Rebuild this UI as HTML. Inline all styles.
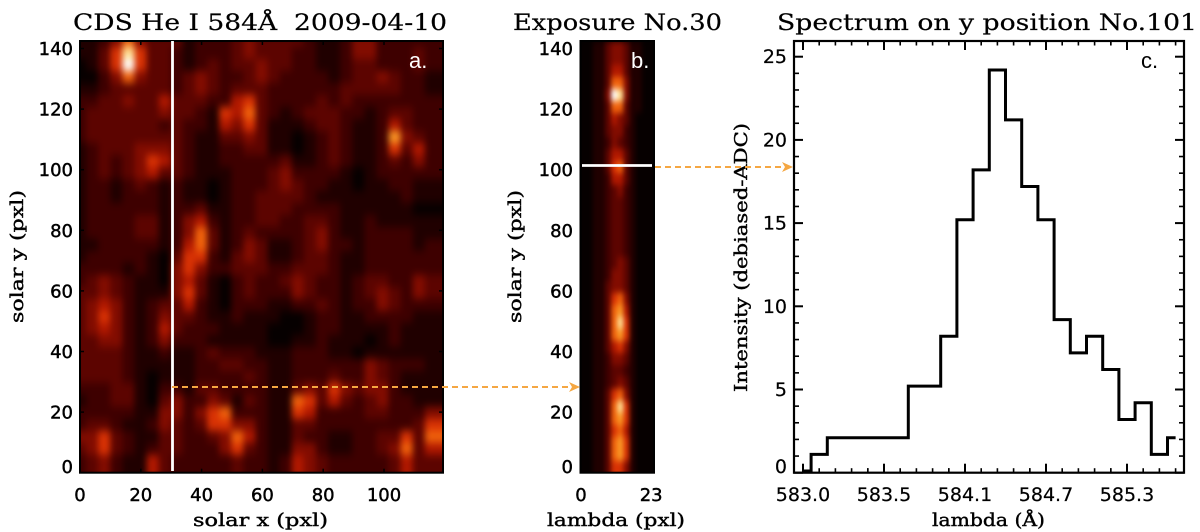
<!DOCTYPE html>
<html><head><meta charset="utf-8"><title>CDS He I 584 spectrum panels</title>
<style>
html,body{margin:0;padding:0;background:#fff;width:1200px;height:532px;overflow:hidden}
svg{display:block}
.title{font-family:"DejaVu Serif","Liberation Serif",serif;font-size:22.5px;fill:#000;stroke:#000;stroke-width:.2}
.axt{font-family:"DejaVu Serif","Liberation Serif",serif;font-size:18px;fill:#000;stroke:#000;stroke-width:.4}
.tick{font-family:"DejaVu Sans","Liberation Sans",sans-serif;font-size:18px;fill:#000;stroke:#000;stroke-width:.45}
.tickc{font-family:"DejaVu Sans","Liberation Sans",sans-serif;font-size:19px;fill:#000;stroke:#000;stroke-width:.2}
.pl{font-family:"Liberation Sans",sans-serif;font-size:22px}
</style></head>
<body>
<svg id="fig" xmlns="http://www.w3.org/2000/svg" width="1200" height="532" viewBox="0 0 1200 532">
<defs>
<filter id="blurA" x="-5%" y="-5%" width="110%" height="110%" color-interpolation-filters="sRGB"><feGaussianBlur stdDeviation="3.2 4.2"/></filter>
<filter id="blurB" x="-5%" y="-5%" width="110%" height="110%" color-interpolation-filters="sRGB"><feGaussianBlur stdDeviation="2.4 3.5"/></filter>
<clipPath id="clipA"><rect x="80" y="41" width="363" height="431.7"/></clipPath>
<clipPath id="clipB"><rect x="580.5" y="41" width="73.5" height="431.7"/></clipPath>
<marker id="arrowHead" markerWidth="12" markerHeight="10" refX="11" refY="5" orient="auto" markerUnits="userSpaceOnUse"><path d="M0,0 L11,5 L0,10 L3,5 Z" fill="#f5a742"/></marker>
</defs>
<text class="title" x="73" y="30" textLength="374" lengthAdjust="spacingAndGlyphs" xml:space="preserve">CDS He I 584Å  2009-04-10</text>
<text class="title" x="513" y="30" textLength="209" lengthAdjust="spacingAndGlyphs">Exposure No.30</text>
<text class="title" x="777" y="30" textLength="420" lengthAdjust="spacingAndGlyphs">Spectrum on y position No.101</text>
<text class="axt" x="193" y="526" textLength="135" lengthAdjust="spacingAndGlyphs">solar x (pxl)</text>
<text class="axt" x="547" y="526" textLength="138" lengthAdjust="spacingAndGlyphs">lambda (pxl)</text>
<text class="axt" x="932" y="526" textLength="113" lengthAdjust="spacingAndGlyphs">lambda (Å)</text>
<text class="axt" transform="translate(23,323) rotate(-90)" textLength="133" lengthAdjust="spacingAndGlyphs">solar y (pxl)</text>
<text class="axt" transform="translate(521,323) rotate(-90)" textLength="133" lengthAdjust="spacingAndGlyphs">solar y (pxl)</text>
<text class="axt" transform="translate(747,392) rotate(-90)" textLength="269" lengthAdjust="spacingAndGlyphs">Intensity (debiased-ADC)</text>
<g id="layer"></g>
</svg>
<script>
var heatA = [
[1,1,2,4,7,4,3,3,3,1,2,2,2,3,4,3,3,3,3,2,1,1,2,4,4,2,2,2,2,2],
[1,1,3,6,9,6,3,3,2,1,2,2,2,3,4,3,3,3,2,2,1,1,2,4,4,2,2,2,3,2],
[0,1,3,6,10,6,3,3,2,1,2,3,2,3,3,4,3,3,2,2,1,1,2,3,3,2,2,2,3,2],
[0,0,2,4,7,4,3,3,2,3,4,3,2,2,3,4,3,2,2,2,2,1,2,3,3,4,3,2,2,1],
[1,1,2,3,3,3,3,3,2,3,4,3,2,3,3,3,2,2,2,2,2,2,3,3,3,3,3,2,2,1],
[2,2,3,3,4,3,3,5,3,3,3,2,2,5,6,3,2,2,2,2,3,2,3,2,2,2,2,2,2,2],
[2,3,3,3,3,3,3,4,3,3,2,1,6,5,7,3,2,1,2,3,3,3,2,2,1,2,3,3,2,2],
[2,3,3,3,3,3,3,2,3,2,2,1,5,4,6,3,1,1,1,2,3,3,2,1,1,2,5,3,2,2],
[2,3,3,3,3,3,3,3,3,2,1,1,3,3,4,3,1,1,0,1,2,3,2,1,1,2,8,4,3,2],
[1,2,3,3,3,4,4,4,3,2,1,1,2,2,3,3,1,1,0,1,2,3,2,1,1,2,6,3,5,2],
[1,2,3,2,3,4,6,5,3,2,1,1,2,2,2,2,2,3,1,1,2,3,2,1,1,2,3,2,4,2],
[1,2,3,2,3,4,5,3,3,2,1,1,1,2,2,2,3,4,2,2,2,2,1,0,1,2,2,2,2,2],
[1,2,2,1,2,3,2,1,2,1,1,0,1,2,2,2,3,4,3,2,2,1,1,0,1,1,2,2,1,1],
[1,2,2,1,2,2,2,1,2,1,1,0,1,2,2,3,3,3,3,2,1,1,1,1,1,1,1,2,1,1],
[1,2,2,2,2,2,2,1,2,2,3,1,1,2,2,3,3,3,2,2,2,2,1,1,1,1,1,1,0,0],
[1,2,2,2,2,3,3,1,2,4,5,2,1,2,2,3,3,2,2,3,3,2,1,1,2,1,1,1,1,1],
[1,2,2,2,2,3,3,1,2,4,7,3,1,2,3,2,2,2,2,3,4,2,1,1,2,2,2,2,1,1],
[1,1,2,2,2,2,2,1,2,5,7,3,1,2,4,3,1,1,2,3,4,2,2,1,2,2,2,2,1,2],
[1,2,2,2,2,2,1,0,3,6,6,2,1,3,4,3,1,1,2,3,3,2,1,1,2,2,2,2,2,2],
[2,2,2,2,1,2,1,0,4,6,4,2,2,3,3,3,2,2,3,3,3,2,1,1,2,2,2,2,2,2],
[2,3,4,3,2,1,1,0,4,5,3,1,0,2,3,2,2,3,4,3,2,2,1,2,3,3,2,2,4,3],
[3,3,4,3,2,1,1,1,4,6,3,1,0,2,3,2,2,2,4,3,2,2,1,2,3,4,3,2,4,3],
[3,4,5,4,2,1,2,3,3,5,2,1,0,2,2,2,1,1,2,2,3,2,1,2,2,4,3,2,2,2],
[3,4,6,4,2,1,2,4,3,3,2,1,1,2,1,1,1,0,0,1,2,2,1,1,2,2,2,2,1,1],
[3,4,5,4,2,1,2,5,3,2,2,2,1,1,1,1,0,0,0,1,2,2,1,1,1,1,2,1,1,1],
[3,3,4,4,2,1,2,4,2,2,2,1,1,1,1,1,0,0,1,1,2,1,1,1,0,1,2,1,1,1],
[3,3,3,3,2,1,1,2,1,1,2,3,2,2,2,1,1,1,2,2,2,1,1,0,1,1,1,1,1,1],
[3,3,3,3,2,1,1,1,1,1,2,2,3,3,2,2,1,1,2,2,2,2,2,2,4,3,2,2,2,1],
[3,3,3,3,2,1,0,1,1,1,2,2,2,2,3,2,1,1,2,2,2,3,2,2,4,3,2,1,1,1],
[2,2,2,3,3,1,0,2,2,1,3,3,2,2,2,2,1,1,3,4,3,6,4,3,4,4,2,1,1,1],
[1,2,2,3,3,1,0,3,4,2,2,4,3,1,3,2,1,1,7,6,3,5,3,2,3,4,2,2,1,1],
[2,2,2,2,2,1,1,4,4,2,4,6,7,2,2,2,1,1,6,5,2,2,2,2,3,3,2,2,2,4],
[2,3,3,2,1,1,2,4,3,2,3,6,6,4,4,2,1,1,3,3,2,2,2,2,2,2,2,2,3,6],
[4,4,6,3,2,1,1,3,3,2,2,3,4,7,5,2,1,1,3,2,2,1,1,2,2,3,3,6,3,7],
[3,4,6,3,2,1,2,3,3,2,2,2,4,6,3,2,1,1,4,4,2,1,1,2,2,3,4,7,3,5],
[2,3,4,2,1,1,5,3,2,2,2,2,2,3,2,2,1,2,5,4,3,2,2,2,2,2,3,5,3,3]
];
var heatB = [
[0,0,1,1,3,4,4,3,1,1,0,0],
[0,0,1,1,3,4,4,3,1,1,0,0],
[0,0,1,1,3,5,5,3,1,1,0,0],
[0,0,1,1,3,7,7,4,1,1,0,0],
[0,0,1,1,4,10,9,4,1,1,0,0],
[0,0,1,1,3,7,7,3,1,1,0,0],
[0,0,1,1,3,5,4,3,1,0,0,0],
[0,0,1,1,3,4,4,2,1,0,0,0],
[0,0,1,1,2,4,3,2,1,0,0,0],
[0,0,1,1,3,5,5,3,1,0,0,0],
[0,0,1,1,3,6,7,3,1,0,0,0],
[0,0,1,1,2,5,5,3,1,0,0,0],
[0,0,1,1,2,3,4,2,1,0,0,0],
[0,0,1,1,2,3,3,2,1,0,0,0],
[0,0,1,1,2,3,3,2,1,0,0,0],
[0,0,1,1,2,3,3,2,1,0,0,0],
[0,0,1,1,2,3,3,2,1,0,0,0],
[0,0,1,1,2,3,3,2,1,0,0,0],
[0,0,1,1,2,3,4,3,1,0,0,0],
[0,0,1,1,2,4,4,3,1,0,0,0],
[0,0,1,1,3,4,4,3,1,0,0,0],
[0,0,1,1,3,6,7,4,1,0,0,0],
[0,0,1,1,3,7,8,5,1,0,0,0],
[0,0,1,1,3,7,9,6,1,0,0,0],
[0,0,1,1,3,7,8,6,1,0,0,0],
[0,0,1,1,3,5,6,4,1,0,0,0],
[0,0,1,1,2,4,4,3,1,0,0,0],
[0,0,1,1,2,3,3,2,1,0,0,0],
[0,0,1,1,2,3,4,3,1,0,0,0],
[0,0,1,1,3,6,7,4,1,0,0,0],
[0,0,1,1,3,7,9,6,1,0,0,0],
[0,0,1,1,3,7,8,6,1,0,0,0],
[0,0,1,1,3,6,7,5,1,0,0,0],
[0,0,1,1,3,7,8,6,1,0,0,0],
[0,0,1,1,3,7,8,6,1,0,0,0],
[0,0,1,1,3,6,6,4,1,0,0,0]
];
var imageYTicks = [0,20,40,60,80,100,120,140];
var imageAXTicks = [0,20,40,60,80,100];
var imageBXTicks = [0,23];
var spectrumLambda = [583.00,583.116,583.232,583.348,583.464,583.58,583.696,583.812,583.928,584.044,584.16,584.276,584.392,584.508,584.624,584.74,584.856,584.972,585.088,585.204,585.32,585.436,585.552,585.668];
var spectrumIntensity = [0.1,1.1,2.1,2.1,2.1,2.1,2.1,5.2,5.2,8.2,15.2,18.2,24.2,21.2,17.2,15.2,9.2,7.2,8.2,6.2,3.2,4.2,1.1,2.1];
var spectrumXTicks = [583.0,583.58,584.16,584.74,585.32];
var spectrumXTickLabels = ["583.0","583.5","584.1","584.7","585.3"];
var spectrumYTicks = [0,5,10,15,20,25];

var NS = 'http://www.w3.org/2000/svg';
var layer = document.getElementById('layer');
function mk(tag, attrs, parent) {
  var e = document.createElementNS(NS, tag);
  for (var k in attrs) e.setAttribute(k, attrs[k]);
  (parent || layer).appendChild(e);
  return e;
}
var TOP = 41, BOT = 472.7;
var stops = [[0,[6,0,0]],[1,[32,0,0]],[2,[62,0,0]],[3,[92,4,0]],[4,[130,12,0]],[5,[176,24,0]],[6,[216,50,4]],[7,[240,98,12]],[8,[250,154,38]],[9,[255,226,150]],[10,[255,255,255]]];
function heatColor(v) {
  for (var i = 1; i < stops.length; i++) {
    if (v <= stops[i][0]) {
      var a = stops[i-1], b = stops[i], t = (v - a[0]) / (b[0] - a[0]);
      return 'rgb(' + a[1].map(function (c, j) { return Math.round(c + (b[1][j] - c) * t); }).join(',') + ')';
    }
  }
  return '#fff';
}
function drawHeat(grid, x0, x1, clip, blur, name, shift) {
  var clipG = mk('g', {'clip-path': 'url(#' + clip + ')'});
  
  
  mk('rect', {x: x0, y: TOP, width: x1 - x0, height: BOT - TOP, fill: '#050000'}, clipG);
  var g = mk('g', {filter: 'url(#' + blur + ')'}, clipG);
  var rows = grid.length, cols = grid[0].length;
  var cw = (x1 - x0) / cols, ch = (BOT - TOP) / rows;
  grid.forEach(function (row, r) {
    row.forEach(function (v, c) {
      var cell = mk('rect', {
        x: x0 + (c - shift) * cw,
        y: TOP + (r - shift) * ch,
        width: cw + 0.6 + (c === cols - 1 ? cw : 0),
        height: ch + 0.6 + (r === rows - 1 ? ch : 0),
        fill: heatColor(v)
      }, g);
      
      
    });
  });
}
var yImg = function (v) { return BOT - v * 3.03; };
var xA = function (v) { return 80 + v * 3.04; };
var xB = function (v) { return 581 + v * 3.05; };
var xC = function (l) { return 803 + (l - 583.0) / 0.58 * 81; };
var yC = function (v) { return BOT - v * 16.64; };

drawHeat(heatA, 80, 443, 'clipA', 'blurA', 'panel-a-heatmap', 0.5);
drawHeat(heatB, 580.5, 654, 'clipB', 'blurB', 'panel-b-heatmap', 0);

function frame(x0, x1, name, w) {
  var f = mk('rect', {x: x0, y: TOP, width: x1 - x0, height: BOT - TOP, fill: 'none', stroke: '#000', 'stroke-width': w});
  
  
}
function tickLine(x1, y1, x2, y2, w) {
  var t = mk('line', {x1: x1, y1: y1, x2: x2, y2: y2, stroke: '#000', 'stroke-width': w});
  
  
}
function label(cls, x, y, anchor, s) {
  var t = mk('text', {'class': cls, x: x, y: y, 'text-anchor': anchor});
  t.textContent = s;
  
  
}
function yLabelPos(y) { return Math.min(y + 6.5, 473); }

// panel a
frame(80, 443, 'panel-a-frame', 2);
imageYTicks.forEach(function (v) {
  tickLine(80, yImg(v), 84, yImg(v), 1.5);
  tickLine(443, yImg(v), 439, yImg(v), 1.5);
  label('tick', 73, yLabelPos(yImg(v)), 'end', String(v));
});
imageAXTicks.forEach(function (v) {
  tickLine(xA(v), BOT, xA(v), BOT - 4, 1.5);
  tickLine(xA(v), TOP, xA(v), TOP + 4, 1.5);
  label('tick', xA(v), 501, 'middle', String(v));
});
// panel b
frame(580.5, 654, 'panel-b-frame', 2);
imageYTicks.forEach(function (v) {
  label('tick', 573, yLabelPos(yImg(v)), 'end', String(v));
});
imageBXTicks.forEach(function (v) {
  label('tick', xB(v), 501, 'middle', String(v));
});
// panel c
frame(794, 1184, 'panel-c-frame', 2.2);
spectrumYTicks.forEach(function (v) {
  tickLine(794, yC(v), 803, yC(v), 2);
  tickLine(1184, yC(v), 1175, yC(v), 2);
  label('tickc', 787, yLabelPos(yC(v)), 'end', String(v));
});
for (var m = 0; m <= 25; m++) {
  if (m % 5 !== 0) {
    tickLine(794, yC(m), 799, yC(m), 1.6);
    tickLine(1184, yC(m), 1179, yC(m), 1.6);
  }
}
spectrumXTicks.forEach(function (l, i) {
  tickLine(xC(l), BOT, xC(l), BOT - 9, 2);
  tickLine(xC(l), TOP, xC(l), TOP + 9, 2);
  label('tickc', xC(l), 501, 'middle', spectrumXTickLabels[i]);
  for (var k = -1; k <= 4; k++) {
    if (k === 0) continue;
    var xm = xC(l + k * 0.116);
    if (xm > 796 && xm < 1182) {
      tickLine(xm, BOT, xm, BOT - 4.5, 1.6);
      tickLine(xm, TOP, xm, TOP + 4.5, 1.6);
    }
  }
});
// spectrum histogram
var half = 0.058, d = '';
spectrumLambda.forEach(function (l, i) {
  var a = i === 0 ? l : l - half;
  var b = i === spectrumLambda.length - 1 ? l : l + half;
  var y = yC(spectrumIntensity[i]);
  d += (i === 0 ? 'M' : 'L') + xC(a) + ',' + y + ' L' + xC(b) + ',' + y + ' ';
});
var line = mk('path', {d: d, fill: 'none', stroke: '#000', 'stroke-width': 3, 'stroke-linejoin': 'miter'});



// position markers
var v1 = mk('line', {x1: 172.5, y1: TOP, x2: 172.5, y2: 471, stroke: '#fff', 'stroke-width': 2.8});


var h1 = mk('line', {x1: 582, y1: 165.5, x2: 652, y2: 165.5, stroke: '#fff', 'stroke-width': 2.8});


var a1 = mk('line', {x1: 172, y1: 387, x2: 580, y2: 387, stroke: '#f5a742', 'stroke-width': 2, 'stroke-dasharray': '6 4', 'marker-end': 'url(#arrowHead)'});


var a2 = mk('line', {x1: 655, y1: 167, x2: 793, y2: 167, stroke: '#f5a742', 'stroke-width': 2, 'stroke-dasharray': '6 4', 'marker-end': 'url(#arrowHead)'});



// panel letters
var pa = mk('text', {'class': 'pl', x: 409, y: 68, fill: '#fff'});
pa.textContent = 'a.';


var pb = mk('text', {'class': 'pl', x: 631, y: 68, fill: '#fff'});
pb.textContent = 'b.';


var pc = mk('text', {'class': 'pl', x: 1141, y: 68, fill: '#000'});
pc.textContent = 'c.';


</script>
</body></html>
